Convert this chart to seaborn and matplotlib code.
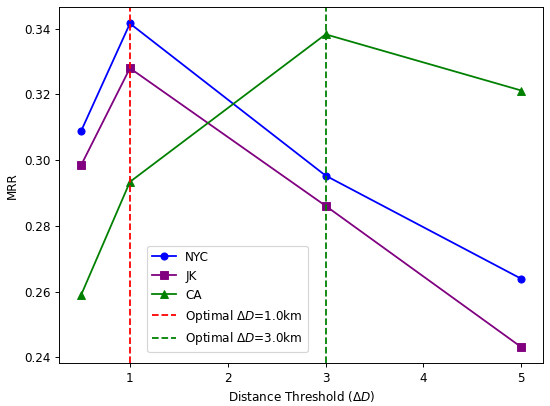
import pandas as pd
import seaborn as sns
import matplotlib
matplotlib.use('Agg')
import matplotlib.pyplot as plt

# distance thresholds (km) and MRR per dataset
thresholds = [0.5, 1, 3, 5]
mrr_nyc = [0.3088, 0.3416, 0.2953, 0.2639]
mrr_jk = [0.2984, 0.3280, 0.2861, 0.2431]
mrr_ca = [0.2589, 0.2934, 0.3383, 0.3212]

optimal_nyc_jk = 1.0
optimal_ca = 3.0

df = pd.DataFrame({'threshold': thresholds, 'NYC': mrr_nyc, 'JK': mrr_jk, 'CA': mrr_ca})

fig = plt.figure(figsize=(550 / 86, 406 / 86), dpi=86)
ax = fig.add_axes([59 / 550, 1 - 363.3 / 406, (543.3 - 59) / 550, (363.3 - 7.3) / 406])

sns.lineplot(data=df, x='threshold', y='NYC', marker='o', color='blue', markeredgecolor='blue',
             label='NYC', ax=ax)
sns.lineplot(data=df, x='threshold', y='JK', marker='s', color='purple', markeredgecolor='purple',
             label='JK', ax=ax)
sns.lineplot(data=df, x='threshold', y='CA', marker='^', color='green', markeredgecolor='green',
             label='CA', ax=ax)

ax.axvline(optimal_nyc_jk, color='red', linestyle='--', label=r'Optimal $\Delta D$=1.0km')
ax.axvline(optimal_ca, color='green', linestyle='--', label=r'Optimal $\Delta D$=3.0km')

ax.set_xlabel(r'Distance Threshold ($\Delta D$)')
ax.set_ylabel('MRR')
ax.legend(loc='upper left', bbox_to_anchor=(0.182, 0.33), borderaxespad=0)

fig.savefig('out.png', dpi=86)
